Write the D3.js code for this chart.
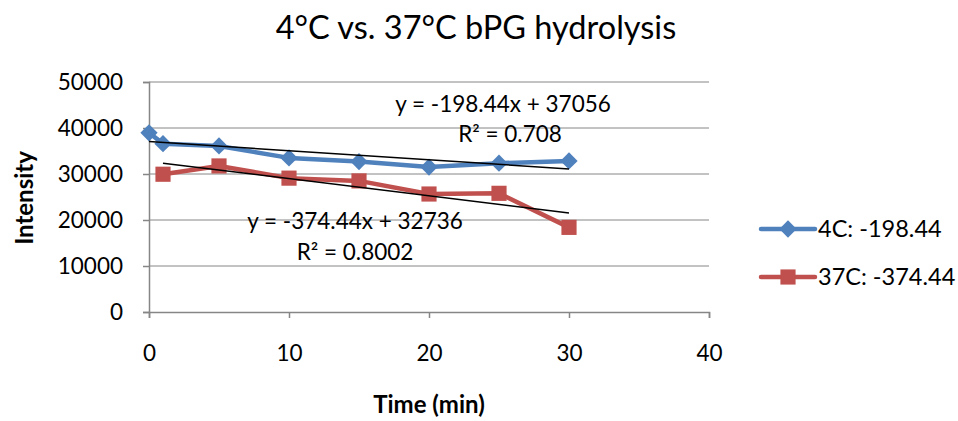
<!DOCTYPE html>
<html>
<head>
<meta charset="utf-8">
<script src="https://cdn.jsdelivr.net/npm/d3@7"></script>
<style>
  body { margin: 0; background: #fff; }
  text { font-family: Lato, "Open Sans", sans-serif; fill: #000; }
</style>
</head>
<body>
<div id="chart"></div>
<script>
const width = 958,
  height = 421,
  margin = { top: 82, right: 249, bottom: 109, left: 149 };

const times4 = [0, 1, 5, 10, 15, 20, 25, 30];
const values4 = [38950, 36600, 36100, 33500, 32700, 31500, 32350, 32850];
const times37 = [1, 5, 10, 15, 20, 25, 30];
const values37 = [29950, 31750, 29100, 28500, 25650, 25800, 18400];
const xTicks = [0, 10, 20, 30, 40];
const yTicks = [0, 10000, 20000, 30000, 40000, 50000];
const seriesNames = ["4C: -198.44", "37C: -374.44"];
const trends = [
  { slope: -198.44, intercept: 37056, from: 0, to: 30 },
  { slope: -374.44, intercept: 32736, from: 1, to: 30 }
];
const eqLabels = [
  ["y = -198.44x + 37056", "R² = 0.708"],
  ["y = -374.44x + 32736", "R² = 0.8002"]
];

const colors = ["#4F81BD", "#C0504D"];

const svg = d3.select("#chart")
  .append("svg")
  .attr("width", width)
  .attr("height", height);

const iw = width - margin.left - margin.right,
  ih = height - margin.top - margin.bottom;

const x = d3.scaleLinear().domain([0, 40]).range([margin.left, margin.left + iw]);
const y = d3.scaleLinear().domain([0, 50000]).range([margin.top + ih, margin.top]);

// title
svg.append("text")
  .attr("x", 476)
  .attr("y", 39)
  .attr("text-anchor", "middle")
  .style("font-size", "32.5px")
  .text("4°C vs. 37°C bPG hydrolysis");

// gridlines
svg.append("g")
  .selectAll("line")
  .data(yTicks.slice(1))
  .enter()
  .append("line")
  .attr("x1", x(0))
  .attr("x2", x(40))
  .attr("y1", d => y(d))
  .attr("y2", d => y(d))
  .style("stroke", "#868686")
  .style("stroke-width", 1);

// axes
const yAxis = svg.append("g")
  .attr("transform", `translate(${x(0)},0)`)
  .call(d3.axisLeft(y).tickValues(yTicks).tickSize(6).tickPadding(20).tickFormat(d3.format("d")));
const xAxis = svg.append("g")
  .attr("transform", `translate(0,${y(0)})`)
  .call(d3.axisBottom(x).tickValues(xTicks).tickSize(6).tickPadding(27).tickFormat(d3.format("d")));

[yAxis, xAxis].forEach(a => {
  a.select(".domain").style("stroke", "#868686").style("stroke-width", 1.5);
  a.selectAll(".tick line").style("stroke", "#868686").style("stroke-width", 1.5);
  a.selectAll("text").style("font-family", "Lato, sans-serif").style("font-size", "22.5px").style("fill", "#000");
});
yAxis.selectAll("text").attr("dy", "0.35em");

// axis titles
svg.append("text")
  .attr("transform", "translate(33,198) rotate(-90)")
  .attr("text-anchor", "middle")
  .style("font-size", "24px")
  .style("font-weight", "bold")
  .text("Intensity");

svg.append("text")
  .attr("x", 429)
  .attr("y", 413)
  .attr("text-anchor", "middle")
  .style("font-size", "24px")
  .style("font-weight", "bold")
  .text("Time (min)");

const line = d3.line().x(d => x(d[0])).y(d => y(d[1]));
const data4 = times4.map((t, i) => [t, values4[i]]);
const data37 = times37.map((t, i) => [t, values37[i]]);
const allSeries = [data4, data37];

allSeries.forEach((data, idx) => {
  svg.append("path")
    .datum(data)
    .attr("d", line)
    .style("fill", "none")
    .style("stroke", colors[idx])
    .style("stroke-width", 4.5)
    .style("stroke-linejoin", "round");
});

// markers
const diamond = d3.symbol().type(d3.symbolDiamond2).size(190);
const square = d3.symbol().type(d3.symbolSquare).size(230);

svg.append("g")
  .selectAll("path")
  .data(data4)
  .enter()
  .append("path")
  .attr("d", diamond)
  .attr("transform", d => `translate(${x(d[0])},${y(d[1])})`)
  .style("fill", colors[0]);

svg.append("g")
  .selectAll("path")
  .data(data37)
  .enter()
  .append("path")
  .attr("d", square)
  .attr("transform", d => `translate(${x(d[0])},${y(d[1])})`)
  .style("fill", colors[1]);

// trendlines
trends.forEach(t => {
  svg.append("line")
    .attr("x1", x(t.from))
    .attr("y1", y(t.slope * t.from + t.intercept))
    .attr("x2", x(t.to))
    .attr("y2", y(t.slope * t.to + t.intercept))
    .style("stroke", "#000")
    .style("stroke-width", 1.5);
});

// equations
const eqPos = [[503, 112, 510, 142], [355, 229, 355, 260]];
eqLabels.forEach((lab, i) => {
  const p = eqPos[i];
  svg.append("text").attr("x", p[0]).attr("y", p[1]).attr("text-anchor", "middle")
    .style("font-size", "22.5px").text(lab[0]);
  svg.append("text").attr("x", p[2]).attr("y", p[3]).attr("text-anchor", "middle")
    .style("font-size", "22.5px").text(lab[1]);
});

// legend
const legend = svg.append("g");
seriesNames.forEach((name, i) => {
  const ly = 229 + i * 48;
  legend.append("line")
    .attr("x1", 761).attr("x2", 815)
    .attr("y1", ly).attr("y2", ly)
    .style("stroke", colors[i])
    .style("stroke-width", 4.5)
    .style("stroke-linecap", "round");
  legend.append("path")
    .attr("d", i === 0 ? diamond : square)
    .attr("transform", `translate(788,${ly})`)
    .style("fill", colors[i]);
  legend.append("text")
    .attr("x", 818)
    .attr("y", ly)
    .attr("dy", "0.35em")
    .style("font-size", "23.5px")
    .text(name);
});
</script>
</body>
</html>
